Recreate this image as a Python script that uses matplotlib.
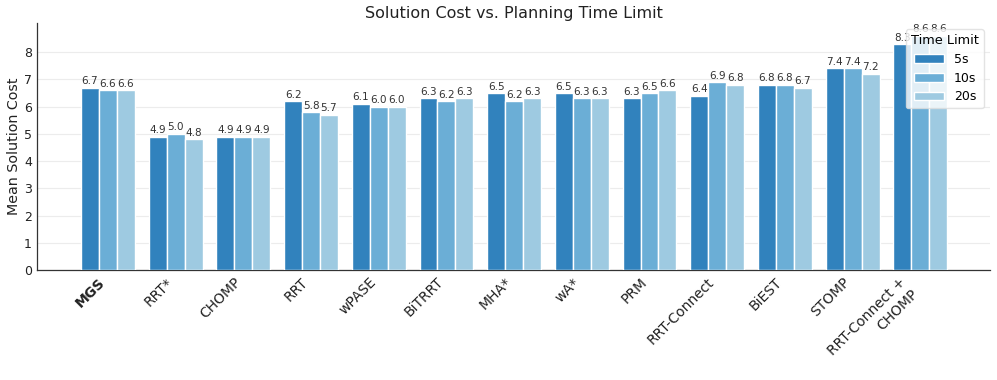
import matplotlib
matplotlib.use("Agg")
import matplotlib.pyplot as plt
import numpy as np

categories = ["MGS", "RRT*", "CHOMP", "RRT", "wPASE", "BiTRRT", "MHA*", "wA*",
              "PRM", "RRT-Connect", "BiEST", "STOMP", "RRT-Connect +\nCHOMP"]
series_names = ["5s", "10s", "20s"]
cost_5s = [6.7, 4.9, 4.9, 6.2, 6.1, 6.3, 6.5, 6.5, 6.3, 6.4, 6.8, 7.4, 8.3]
cost_10s = [6.6, 5.0, 4.9, 5.8, 6.0, 6.2, 6.2, 6.3, 6.5, 6.9, 6.8, 7.4, 8.6]
cost_20s = [6.6, 4.8, 4.9, 5.7, 6.0, 6.3, 6.3, 6.3, 6.6, 6.8, 6.7, 7.2, 8.6]
colors = ["#3182bd", "#6baed6", "#9ecae1"]

plt.rcParams['font.family'] = ['DejaVu Sans']
fig = plt.figure(figsize=(9.97, 3.8), dpi=100)
ax = fig.add_axes([0.037, 0.289, 0.956, 0.650])

x = np.arange(len(categories))
w = 0.265
for i, (name, vals) in enumerate(zip(series_names, [cost_5s, cost_10s, cost_20s])):
    bars = ax.bar(x + (i - 1) * w, vals, w, color=colors[i], edgecolor="white",
                  linewidth=1, label=name, zorder=3)
    ax.bar_label(bars, labels=[f"{v:.1f}" for v in vals], fontsize=7.5,
                 padding=1, color="#333333", zorder=4)

ax.set_xlim(-1.05, 13.03)
ax.set_ylim(0, 9.06)
ax.set_yticks(range(0, 9))
ax.tick_params(axis='y', labelsize=9, length=0, colors="#222222")
ax.tick_params(axis='x', length=0, labelsize=10, colors="#222222")
ax.set_xticks(x)
ax.set_xticklabels(categories, rotation=45, ha='right')
ax.get_xticklabels()[0].set_fontweight('bold')
ax.grid(axis='y', color="#ececec", linewidth=0.8, zorder=0)
ax.set_axisbelow(True)
for s in ["top", "right"]:
    ax.spines[s].set_visible(False)
for s in ["left", "bottom"]:
    ax.spines[s].set_color("#333333")
    ax.spines[s].set_linewidth(0.9)

ax.set_ylabel("Mean Solution Cost", fontsize=10.3, color="#222222", labelpad=2)
ax.set_title("Solution Cost vs. Planning Time Limit", fontsize=11.5, color="#222222", pad=4)
leg = ax.legend(title="Time Limit", loc="upper right", fontsize=9, title_fontsize=9.3,
                frameon=True, framealpha=0.8, handlelength=2.4, labelspacing=0.45)
leg.get_frame().set_edgecolor("#dddddd")
leg.set_zorder(10)

fig.savefig("out.png", dpi=100)
